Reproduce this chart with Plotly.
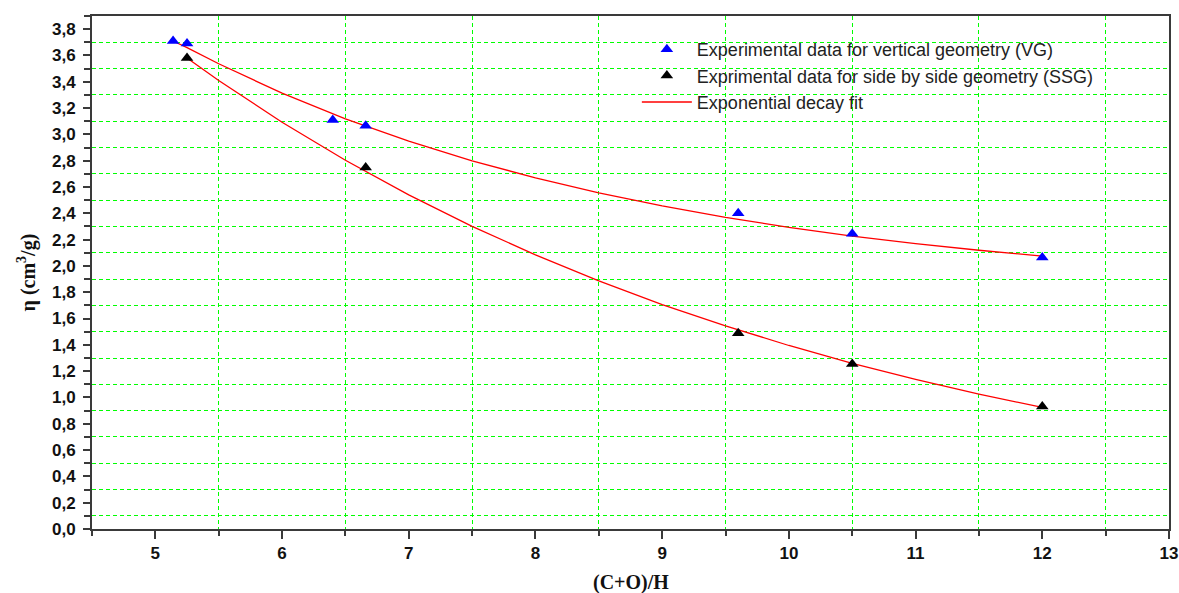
import plotly.graph_objects as go

# ---- data ----
vg_x = [5.14, 5.25, 6.40, 6.66, 9.60, 10.50, 12.00]
vg_y = [3.71, 3.69, 3.11, 3.065, 2.40, 2.244, 2.064]

ssg_x = [5.25, 6.66, 9.60, 10.50, 12.00]
ssg_y = [3.58, 2.748, 1.489, 1.254, 0.932]

fit_vg_x = [5.14, 5.25, 5.5, 6.0, 6.5, 7.0, 7.5, 8.0, 8.5, 9.0, 9.5, 10.0, 10.5, 11.0, 11.5, 12.0]
fit_vg_y = [3.71, 3.66, 3.537, 3.313, 3.118, 2.948, 2.799, 2.669, 2.556, 2.456, 2.369, 2.293, 2.227, 2.170, 2.119, 2.075]

fit_ssg_x = [5.25, 5.5, 6.0, 6.5, 7.0, 7.5, 8.0, 8.5, 9.0, 9.5, 10.0, 10.5, 11.0, 11.5, 12.0]
fit_ssg_y = [3.58, 3.41, 3.092, 2.803, 2.540, 2.301, 2.084, 1.886, 1.706, 1.544, 1.395, 1.260, 1.138, 1.026, 0.924]

legend_names = [
    "Experimental data for vertical geometry (VG)",
    "Exprimental data for side by side geometry (SSG)",
    "Exponential decay fit",
]
x_title = "(C+O)/H"
y_title = "η (cm<sup>3</sup>/g)"

AX = "#3a3a3a"
GRID = "#00ff00"
SANS = "Liberation Sans, Arial, sans-serif"
SERIF = "Liberation Serif, Times New Roman, serif"

fig = go.Figure()
fig.add_trace(go.Scatter(x=fit_vg_x, y=fit_vg_y, mode="lines",
                         line=dict(color="#ff0000", width=1.3),
                         name=legend_names[2], showlegend=True, legendrank=3))
fig.add_trace(go.Scatter(x=fit_ssg_x, y=fit_ssg_y, mode="lines",
                         line=dict(color="#ff0000", width=1.3),
                         name=legend_names[2], showlegend=False))
fig.add_trace(go.Scatter(x=vg_x, y=vg_y, mode="markers",
                         marker=dict(symbol="triangle-up", size=11, color="#0000ff"),
                         name=legend_names[0], legendrank=1))
fig.add_trace(go.Scatter(x=ssg_x, y=ssg_y, mode="markers",
                         marker=dict(symbol="triangle-up", size=11, color="#000000"),
                         name=legend_names[1], legendrank=2))

fig.update_layout(
    width=1179, height=593,
    margin=dict(l=92, r=10, t=16, b=64, autoexpand=False),
    paper_bgcolor="white", plot_bgcolor="white",
    separators=", ",
    font=dict(family=SANS, color="#111111"),
    showlegend=True,
    legend=dict(x=0.5059, y=0.9708, xanchor="left", yanchor="top",
                bgcolor="rgba(0,0,0,0)", borderwidth=0,
                font=dict(family=SANS, size=18, color="#222222"),
                itemwidth=50, tracegroupgap=0),
    xaxis=dict(
        range=[4.5, 13], tick0=0, dtick=1, showgrid=False, zeroline=False,
        showline=True, linecolor=AX, linewidth=2, mirror=True,
        ticks="outside", ticklen=8, tickwidth=1.5, tickcolor=AX,
        ticklabeloverflow="allow",
        tickfont=dict(family=SANS, size=17, color="#111111", weight="bold"),
        minor=dict(dtick=0.5, tick0=0, showgrid=True, gridcolor=GRID, gridwidth=1,
                   griddash="4px,3px", ticks="outside", ticklen=5, tickcolor=AX),
        automargin=False,
    ),
    yaxis=dict(
        range=[0, 3.9], tick0=0, dtick=0.2, tickformat=".1f",
        showgrid=False, zeroline=False,
        showline=True, linecolor=AX, linewidth=2, mirror=True,
        ticks="outside", ticklen=7, tickwidth=1.5, tickcolor=AX,
        ticklabelstandoff=4, ticklabeloverflow="allow",
        tickfont=dict(family=SANS, size=17, color="#111111", weight="bold"),
        minor=dict(dtick=0.1, tick0=0, showgrid=True, gridcolor=GRID, gridwidth=1,
                   griddash="4px,3px", ticks="outside", ticklen=6, tickcolor=AX),
        automargin=False,
    ),
    annotations=[
        dict(text=x_title, xref="paper", yref="paper", x=0.5, y=-0.1046,
             xanchor="center", yanchor="middle", showarrow=False,
             font=dict(family=SERIF, size=20, color="#111111", weight="bold")),
        dict(text=y_title, xref="paper", yref="paper", x=-0.0604, y=0.5,
             xanchor="center", yanchor="middle", showarrow=False, textangle=-90,
             font=dict(family=SERIF, size=20, color="#111111", weight="bold")),
    ],
)

fig.write_html("out.html",
               config={"displayModeBar": False},
               post_script="document.body.style.margin='0';document.body.style.overflow='hidden';")
